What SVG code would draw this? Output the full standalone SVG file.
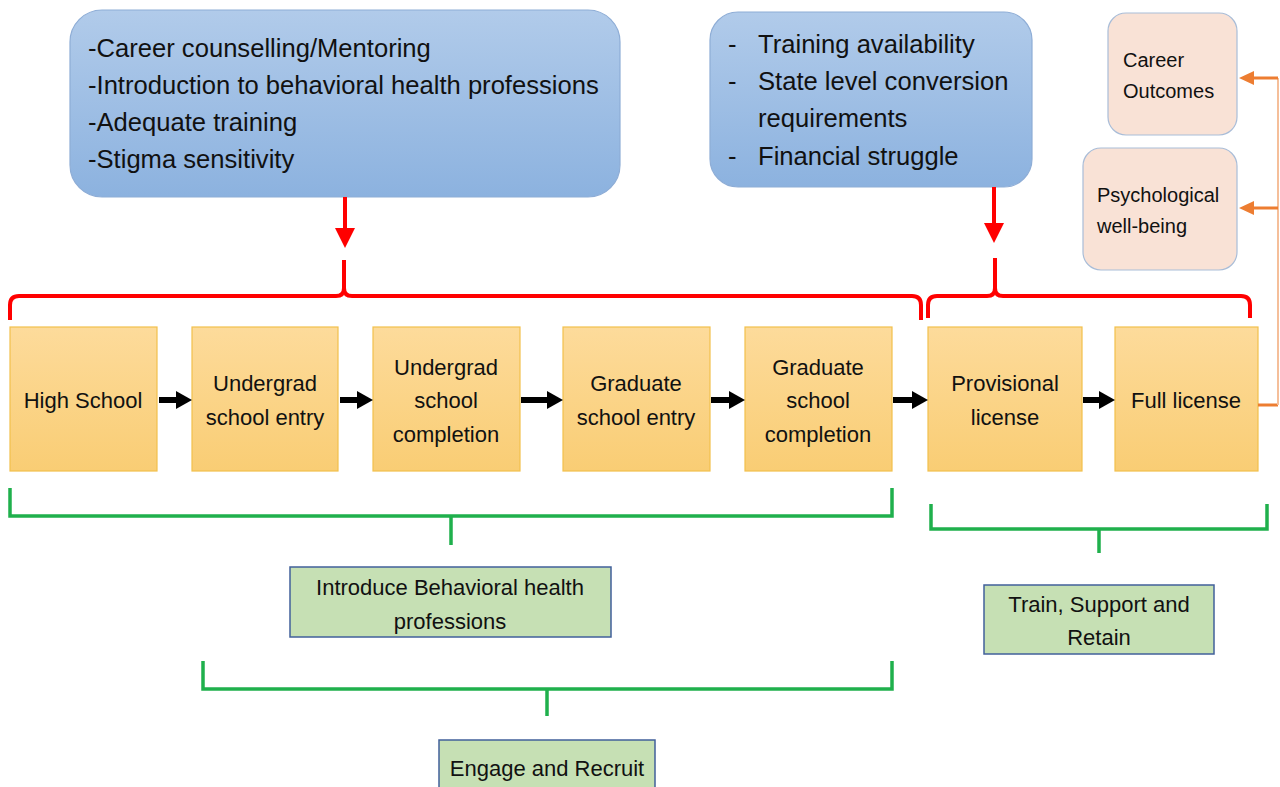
<svg xmlns="http://www.w3.org/2000/svg" width="1280" height="787" viewBox="0 0 1280 787">
<style>
text{font-family:"Liberation Sans",Arial,sans-serif;fill:#111}
.blue{stroke:#8eadd6;stroke-width:1.2;fill:url(#gBlue)}
.step{stroke:#f2c04c;stroke-width:1.2;fill:url(#gOrange)}
.peach{fill:#f9e2d6;stroke:#a9bdd8;stroke-width:1.2}
.green{fill:#c6e0b4;stroke:#41609b;stroke-width:1.5}
.red{stroke:#ff0000;stroke-width:4;fill:none}
.grn{stroke:#1fb04c;stroke-width:3.5;fill:none}
.blk{stroke:#000;stroke-width:6;fill:none}
.org{stroke:#ed7d31;stroke-width:3;fill:none}
.t25{font-size:25.6px}
.t22{font-size:22px}
.t20{font-size:20px}
</style>
<defs>
<linearGradient id="gBlue" x1="0" y1="0" x2="0" y2="1"><stop offset="0" stop-color="#b1cbea"/><stop offset="1" stop-color="#8cb2df"/></linearGradient>
<linearGradient id="gOrange" x1="0" y1="0" x2="0" y2="1"><stop offset="0" stop-color="#fddb9b"/><stop offset="1" stop-color="#f9cd74"/></linearGradient>
</defs>
<rect width="1280" height="787" fill="#fff"/>

<g id="factors-left">
<rect class="blue" x="70" y="10" width="550" height="187" rx="32"/>
<text class="t25" x="88" y="57">-Career counselling/Mentoring</text>
<text class="t25" x="88" y="94">-Introduction to behavioral health professions</text>
<text class="t25" x="88" y="131">-Adequate training</text>
<text class="t25" x="88" y="168">-Stigma sensitivity</text>
</g>

<g id="factors-right">
<rect class="blue" x="710" y="12" width="322" height="175" rx="28"/>
<text class="t25" x="728" y="53">-</text><text class="t25" x="758" y="53">Training availability</text>
<text class="t25" x="728" y="90">-</text><text class="t25" x="758" y="90">State level conversion</text>
<text class="t25" x="758" y="127">requirements</text>
<text class="t25" x="728" y="165">-</text><text class="t25" x="758" y="165">Financial struggle</text>
</g>

<g id="career-outcomes">
<rect class="peach" x="1108" y="13" width="129" height="122" rx="18"/>
<text class="t20" x="1123" y="67">Career</text>
<text class="t20" x="1123" y="98">Outcomes</text>
</g>
<g id="psych-wellbeing">
<rect class="peach" x="1083" y="148" width="154" height="122" rx="18"/>
<text class="t20" x="1097" y="202">Psychological</text>
<text class="t20" x="1097" y="233">well-being</text>
</g>

<g id="high-school">
<rect class="step" x="10" y="327" width="147" height="144"/>
<text class="t22" x="83" y="408" text-anchor="middle">High School</text>
</g>
<g id="undergrad-entry">
<rect class="step" x="192" y="327" width="146" height="144"/>
<text class="t22" x="265" y="391" text-anchor="middle">Undergrad</text>
<text class="t22" x="265" y="425" text-anchor="middle">school entry</text>
</g>
<g id="undergrad-completion">
<rect class="step" x="373" y="327" width="147" height="144"/>
<text class="t22" x="446" y="375" text-anchor="middle">Undergrad</text>
<text class="t22" x="446" y="408" text-anchor="middle">school</text>
<text class="t22" x="446" y="442" text-anchor="middle">completion</text>
</g>
<g id="graduate-entry">
<rect class="step" x="563" y="327" width="147" height="144"/>
<text class="t22" x="636" y="391" text-anchor="middle">Graduate</text>
<text class="t22" x="636" y="425" text-anchor="middle">school entry</text>
</g>
<g id="graduate-completion">
<rect class="step" x="745" y="327" width="147" height="144"/>
<text class="t22" x="818" y="375" text-anchor="middle">Graduate</text>
<text class="t22" x="818" y="408" text-anchor="middle">school</text>
<text class="t22" x="818" y="442" text-anchor="middle">completion</text>
</g>
<g id="provisional-license">
<rect class="step" x="928" y="327" width="154" height="144"/>
<text class="t22" x="1005" y="391" text-anchor="middle">Provisional</text>
<text class="t22" x="1005" y="425" text-anchor="middle">license</text>
</g>
<g id="full-license">
<rect class="step" x="1115" y="327" width="143" height="144"/>
<text class="t22" x="1186" y="408" text-anchor="middle">Full license</text>
</g>

<g id="introduce">
<rect class="green" x="290" y="567" width="321" height="70"/>
<text class="t22" x="450" y="595" text-anchor="middle">Introduce Behavioral health</text>
<text class="t22" x="450" y="629" text-anchor="middle">professions</text>
</g>
<g id="engage">
<rect class="green" x="439" y="740" width="216" height="60"/>
<text class="t22" x="547" y="776" text-anchor="middle">Engage and Recruit</text>
</g>
<g id="train">
<rect class="green" x="984" y="585" width="230" height="69"/>
<text class="t22" x="1099" y="612" text-anchor="middle">Train, Support and</text>
<text class="t22" x="1099" y="645" text-anchor="middle">Retain</text>
</g>

<g id="connectors">
<line class="red" x1="345" y1="197" x2="345" y2="230"/>
<polygon points="335,228 355,228 345,248" fill="#ff0000"/>
<line class="red" x1="994" y1="187" x2="994" y2="225"/>
<polygon points="984,223 1004,223 994,243" fill="#ff0000"/>
<path class="red" d="M10,320 V305 Q10,296 19,296 H336 Q344,296 344,288 V260 M344,288 Q344,296 352,296 H912 Q921,296 921,305 V320"/>
<path class="red" d="M928,318 V305 Q928,296 937,296 H987 Q995,296 995,288 V258 M995,288 Q995,296 1003,296 H1241 Q1250,296 1250,305 V318"/>
<line class="blk" x1="159" y1="400" x2="178" y2="400"/>
<polygon points="176,391 192,400 176,409" fill="#000"/>
<line class="blk" x1="340" y1="400" x2="359" y2="400"/>
<polygon points="357,391 373,400 357,409" fill="#000"/>
<line class="blk" x1="521" y1="400" x2="549" y2="400"/>
<polygon points="547,391 563,400 547,409" fill="#000"/>
<line class="blk" x1="711" y1="400" x2="731" y2="400"/>
<polygon points="729,391 745,400 729,409" fill="#000"/>
<line class="blk" x1="893" y1="400" x2="914" y2="400"/>
<polygon points="912,391 928,400 912,409" fill="#000"/>
<line class="blk" x1="1083" y1="400" x2="1101" y2="400"/>
<polygon points="1099,391 1115,400 1099,409" fill="#000"/>
<line class="org" x1="1258" y1="405" x2="1278" y2="405"/>
<line x1="1278" y1="78" x2="1278" y2="405" stroke="#f5bf9a" stroke-width="2"/>
<line class="org" x1="1278" y1="78" x2="1252" y2="78"/>
<polygon points="1239,78 1254,71 1254,85" fill="#ed7d31"/>
<line class="org" x1="1278" y1="208" x2="1252" y2="208"/>
<polygon points="1239,208 1254,201 1254,215" fill="#ed7d31"/>
<path class="grn" d="M10,488 V516 H892 V488 M451,516 V545"/>
<path class="grn" d="M203,661 V689 H892 V661 M547,689 V716"/>
<path class="grn" d="M931,504 V529 H1267 V504 M1099,529 V553"/>
</g>
</svg>
